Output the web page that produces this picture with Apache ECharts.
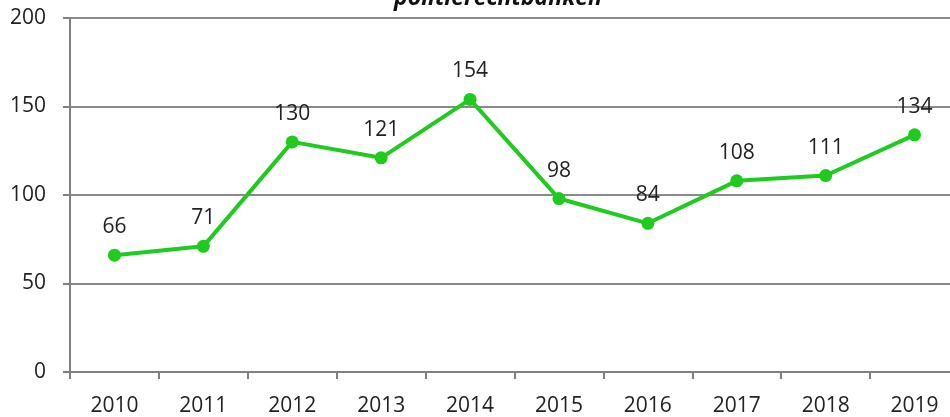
<!DOCTYPE html>
<html>
<head>
<meta charset="utf-8">
<script src="https://cdn.jsdelivr.net/npm/echarts@6/dist/echarts.min.js"></script>
<style>
  html, body { margin: 0; padding: 0; background: #fff; }
  #chart { width: 950px; height: 417px; }
</style>
</head>
<body>
<div id="chart"></div>
<script>
var titleText = "politierechtbanken";
var years = ["2010", "2011", "2012", "2013", "2014", "2015", "2016", "2017", "2018", "2019"];
var counts = [66, 71, 130, 121, 154, 98, 84, 108, 111, 134];

var chart = echarts.init(document.getElementById("chart"));
chart.setOption({
  animation: false,
  textStyle: { fontFamily: "Open Sans" },
  title: {
    text: titleText,
    left: 493,
    top: -18,
    textAlign: "center",
    textStyle: { fontSize: 23, fontWeight: "bold", fontStyle: "italic", color: "#111" }
  },
  // plot runs past the right edge like the cropped original
  grid: { left: 70, width: 889, top: 18, bottom: 45, outerBoundsMode: "none" },
  xAxis: {
    type: "category",
    data: years,
    axisLine: { lineStyle: { color: "#808080", width: 2 } },
    axisTick: { show: true, length: 7, lineStyle: { color: "#808080", width: 2 } },
    axisLabel: { fontSize: 21, color: "#222", margin: 24 }
  },
  yAxis: {
    type: "value",
    min: 0,
    max: 200,
    interval: 50,
    axisLine: { show: true, lineStyle: { color: "#808080", width: 2 } },
    axisTick: { show: true, length: 7, lineStyle: { color: "#808080", width: 2 } },
    axisLabel: { fontSize: 21, color: "#222", margin: 24 },
    splitLine: { lineStyle: { color: "#8a8a8a", width: 2 } }
  },
  series: [{
    type: "line",
    data: counts,
    symbol: "circle",
    symbolSize: 13,
    lineStyle: { color: "#1ecb1e", width: 4 },
    itemStyle: { color: "#1ecb1e" },
    label: { show: true, position: "top", distance: 11, fontSize: 21, color: "#222" }
  }]
});
</script>
</body>
</html>
